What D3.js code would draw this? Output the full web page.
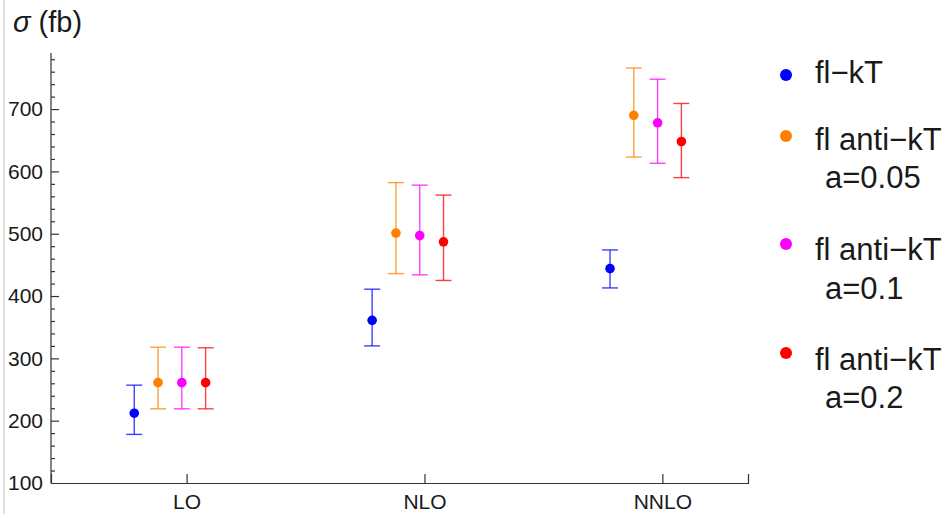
<!DOCTYPE html>
<html>
<head>
<meta charset="utf-8">
<script src="https://cdn.jsdelivr.net/npm/d3@7"></script>
<style>
  body { margin: 0; background: #fff; }
  svg { display: block; font-family: "Liberation Sans", Arial, sans-serif; }
  .axis path, .axis line { stroke: #333; stroke-width: 1.2; }
  .axis text { fill: #1a1a1a; font-size: 21px; }
</style>
</head>
<body>
<svg id="chart"></svg>
<script>
// categories on the x axis
const categories = ['LO', 'NLO', 'NNLO'];

// series: names, colours, central values and error-bar ends (fb)
const seriesNames = ['fl\u2212kT', 'fl anti\u2212kT', 'fl anti\u2212kT', 'fl anti\u2212kT'];
const seriesSubs = ['', 'a=0.05', 'a=0.1', 'a=0.2'];
const seriesColors = ['#0000ff', '#ff8000', '#ff00ff', '#ff0000'];
const seriesOffsets = [-0.22, -0.12, -0.02, 0.08]; // dodge within a category

const flKT      = [212, 361, 444];
const flKTLow   = [178, 320, 413];
const flKTHigh  = [257, 411, 474];

const anti005     = [261, 501, 690];
const anti005Low  = [219, 436, 623];
const anti005High = [318, 582, 766];

const anti01     = [261, 497, 678];
const anti01Low  = [219, 434, 613];
const anti01High = [318, 578, 748];

const anti02     = [261, 487, 648];
const anti02Low  = [219, 425, 590];
const anti02High = [317, 562, 709];

const yTicks = [100, 200, 300, 400, 500, 600, 700];

class ErrorPlot {

  constructor(_config, _data) {
    this.config = {
      parentElement: _config.parentElement,
      containerWidth: _config.containerWidth || 949,
      containerHeight: _config.containerHeight || 514,
      margin: _config.margin || {top: 53, right: 201, bottom: 31, left: 51}
    };
    this.data = _data;
    this.initVis();
  }

  initVis() {
    let vis = this;

    vis.width = vis.config.containerWidth - vis.config.margin.left - vis.config.margin.right;
    vis.height = vis.config.containerHeight - vis.config.margin.top - vis.config.margin.bottom;

    // categories sit at 1, 2, 3
    vis.xScale = d3.scaleLinear()
        .domain([0.43, 3.36])
        .range([0, vis.width]);

    vis.yScale = d3.scaleLinear()
        .domain([100, 790])
        .range([vis.height, 0]);

    vis.svg = d3.select(vis.config.parentElement)
        .attr('width', vis.config.containerWidth)
        .attr('height', vis.config.containerHeight);

    // thin grey frame line at the left edge
    vis.svg.append('line')
        .attr('x1', 4).attr('x2', 4)
        .attr('y1', 0).attr('y2', vis.config.containerHeight)
        .attr('stroke', '#e2e2e2')
        .attr('stroke-width', 2);

    vis.chart = vis.svg.append('g')
        .attr('transform', `translate(${vis.config.margin.left},${vis.config.margin.top})`);

    // minor ticks every 20
    vis.yMinor = d3.axisRight(vis.yScale)
        .tickValues(d3.range(120, 790, 20).filter(v => v % 100 !== 0))
        .tickSize(4)
        .tickFormat('');

    vis.yAxis = d3.axisLeft(vis.yScale)
        .tickValues(yTicks)
        .tickSize(0)
        .tickPadding(8);

    vis.yMajor = d3.axisRight(vis.yScale)
        .tickValues(yTicks.slice(1))
        .tickSize(8)
        .tickFormat('');

    vis.xAxis = d3.axisTop(vis.xScale)
        .tickValues([1, 2, 3])
        .tickSize(9)
        .tickFormat('');

    vis.xLabels = d3.axisBottom(vis.xScale)
        .tickValues([1, 2, 3])
        .tickSize(0)
        .tickPadding(11)
        .tickFormat(d => categories[d - 1]);

    vis.yAxisG = vis.chart.append('g').attr('class', 'axis y-axis');
    vis.yMinorG = vis.chart.append('g').attr('class', 'axis');
    vis.yMajorG = vis.chart.append('g').attr('class', 'axis');
    vis.xAxisG = vis.chart.append('g').attr('class', 'axis x-axis')
        .attr('transform', `translate(0,${vis.height})`);
    vis.xLabelsG = vis.chart.append('g').attr('class', 'axis')
        .attr('transform', `translate(0,${vis.height})`);

    // y axis title
    const title = vis.svg.append('text')
        .attr('x', 13)
        .attr('y', 32)
        .attr('fill', '#1a1a1a')
        .style('font-size', '29px');
    title.append('tspan').style('font-style', 'italic').text('\u03c3');
    title.append('tspan').text(' (fb)');

    vis.updateVis();
  }

  updateVis() {
    let vis = this;
    vis.xValue = (d, s) => d.index + 1 + seriesOffsets[s];
    vis.renderVis();
  }

  renderVis() {
    let vis = this;

    vis.yAxisG.call(vis.yAxis).call(g => g.select('.domain').remove());
    vis.yMinorG.call(vis.yMinor).call(g => g.select('.domain').remove());
    vis.yMajorG.call(vis.yMajor);
    vis.xAxisG.call(vis.xAxis);
    vis.xLabelsG.call(vis.xLabels).call(g => g.select('.domain').remove());
    vis.yMajorG.select('.domain').attr('d', `M0,${vis.height}V0`);

    const capHalf = 8;

    const groups = vis.chart.selectAll('.series')
        .data(vis.data)
      .join('g')
        .attr('class', 'series');

    groups.each(function(series, s) {
      const g = d3.select(this);
      const pts = series.values.map((v, i) => ({index: i, v: v, lo: series.low[i], hi: series.high[i]}));
      const col = seriesColors[s];

      g.selectAll('.bar')
          .data(pts)
        .join('line')
          .attr('class', 'bar')
          .attr('x1', d => vis.xScale(vis.xValue(d, s)))
          .attr('x2', d => vis.xScale(vis.xValue(d, s)))
          .attr('y1', d => vis.yScale(d.lo))
          .attr('y2', d => vis.yScale(d.hi))
          .attr('stroke', col).attr('stroke-opacity', 0.75).attr('stroke-width', 1.4);

      ['lo', 'hi'].forEach(k => {
        g.selectAll('.cap-' + k)
            .data(pts)
          .join('line')
            .attr('class', 'cap-' + k)
            .attr('x1', d => vis.xScale(vis.xValue(d, s)) - capHalf)
            .attr('x2', d => vis.xScale(vis.xValue(d, s)) + capHalf)
            .attr('y1', d => vis.yScale(d[k]))
            .attr('y2', d => vis.yScale(d[k]))
            .attr('stroke', col).attr('stroke-opacity', 0.75).attr('stroke-width', 1.4);
      });

      g.selectAll('.point')
          .data(pts)
        .join('circle')
          .attr('class', 'point')
          .attr('r', 4.8)
          .attr('cx', d => vis.xScale(vis.xValue(d, s)))
          .attr('cy', d => vis.yScale(d.v))
          .attr('fill', col);
    });

    // legend rows: dot centre, name baseline, sub-label baseline
    const dotY = [75, 136, 244, 353];
    const nameY = [83, 150, 260, 370];
    const subY = [0, 188, 299, 408];

    const items = vis.svg.append('g').selectAll('.legend-item')
        .data(vis.data)
      .join('g')
        .attr('class', 'legend-item');

    items.append('circle')
        .attr('cx', 786)
        .attr('cy', (d, i) => dotY[i])
        .attr('r', 6)
        .attr('fill', (d, i) => seriesColors[i]);

    items.append('text')
        .attr('x', 815)
        .attr('y', (d, i) => nameY[i])
        .attr('fill', '#1a1a1a')
        .style('font-size', '31px')
        .text((d, i) => seriesNames[i]);

    items.append('text')
        .attr('x', 825)
        .attr('y', (d, i) => subY[i])
        .attr('fill', '#1a1a1a')
        .style('font-size', '31px')
        .text((d, i) => seriesSubs[i]);
  }
}

const plotData = [
  {values: flKT, low: flKTLow, high: flKTHigh},
  {values: anti005, low: anti005Low, high: anti005High},
  {values: anti01, low: anti01Low, high: anti01High},
  {values: anti02, low: anti02Low, high: anti02High}
];

new ErrorPlot({parentElement: '#chart'}, plotData);
</script>
</body>
</html>
